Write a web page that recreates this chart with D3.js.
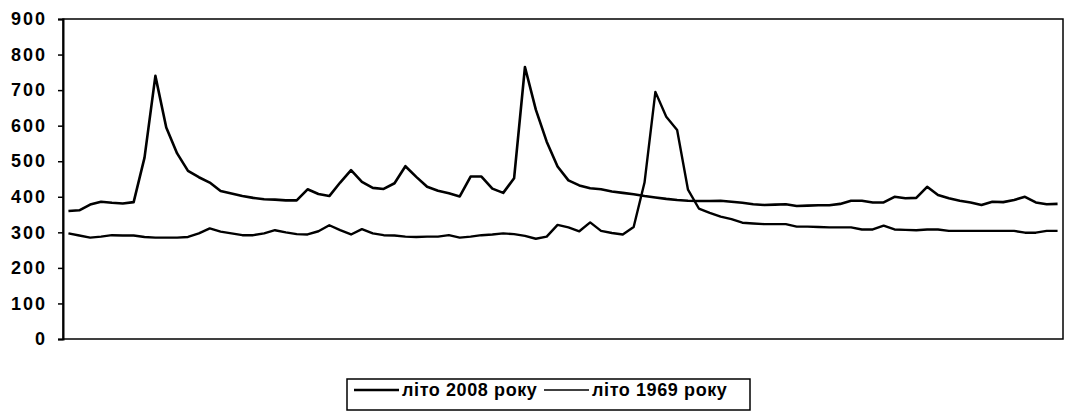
<!DOCTYPE html>
<html>
<head>
<meta charset="utf-8">
<script src="https://d3js.org/d3.v7.min.js"></script>
<style>
  body { margin: 0; background: #fff; }
  text { font-family: "Liberation Sans", Arial, sans-serif; font-weight: bold; fill: #000; }
</style>
</head>
<body>
<script>
// daily values, summer (92 days)
var summer2008 = [360, 362, 378, 386, 383, 381, 385, 510, 740, 595, 522, 473, 455, 440, 416, 409, 402, 397, 393, 392,
  390, 390, 421, 408, 402, 440, 475, 442, 425, 422, 438, 486, 456, 428, 417, 410, 401, 457, 457, 423,
  411, 452, 765, 645, 555, 485, 446, 432, 424, 421, 415, 411, 407, 402, 398, 394, 391, 389, 388, 388,
  389, 386, 383, 379, 377, 378, 379, 374, 375, 376, 376, 380, 389, 389, 384, 384, 400, 396, 397, 428,
  405, 396, 389, 384, 377, 386, 385, 391, 400, 384, 379, 380];
var summer1969 = [297, 291, 285, 288, 292, 291, 291, 287, 285, 285, 285, 287, 297, 311, 302, 297, 292, 292, 297, 306,
  300, 295, 294, 303, 320, 306, 294, 309, 297, 292, 291, 288, 287, 288, 288, 292, 285, 288, 292, 294,
  297, 295, 290, 282, 288, 321, 314, 303, 328, 304, 298, 294, 315, 440, 695, 625, 588, 420, 367, 355,
  344, 337, 327, 325, 323, 323, 323, 316, 316, 315, 314, 314, 314, 308, 308, 319, 308, 307, 306, 308,
  308, 304, 304, 304, 304, 304, 304, 304, 299, 299, 304, 304];
var yTicks = [0, 100, 200, 300, 400, 500, 600, 700, 800, 900];
var seriesNames = ["літо 2008 року", "літо 1969 року"];

var w = 1071, h = 420;
var pLeft = 63, pRight = 1063, pTop = 19, pBottom = 339;

var svg = d3.select("body").append("svg")
  .attr("width", w)
  .attr("height", h);

var x = d3.scaleBand()
  .domain(d3.range(summer2008.length))
  .range([pLeft, pRight]);

var y = d3.scaleLinear()
  .domain([0, 900])
  .range([pBottom, pTop]);

// plot frame
svg.append("rect")
  .attr("x", pLeft).attr("y", pTop)
  .attr("width", pRight - pLeft).attr("height", pBottom - pTop)
  .attr("fill", "none").attr("stroke", "#000").attr("stroke-width", 1.5);

var yAxis = svg.append("g")
  .attr("transform", "translate(" + pLeft + ",0)")
  .call(d3.axisLeft(y).tickValues(yTicks).tickSize(5).tickPadding(11).tickFormat(d3.format("d")));
yAxis.select(".domain").attr("stroke-width", 2);
yAxis.selectAll(".tick line").attr("stroke-width", 1.5);
yAxis.selectAll("text")
  .style("font-size", "18px")
  .style("font-family", "'Liberation Sans', Arial, sans-serif")
  .style("font-weight", "bold")
  .style("letter-spacing", "2px")
  .attr("fill", "#000");

var line = d3.line()
  .x(function(d, i) { return x(i) + x.bandwidth() / 2; })
  .y(function(d) { return y(d); });

svg.append("path").datum(summer2008)
  .attr("d", line).attr("fill", "none").attr("stroke", "#000").attr("stroke-width", 2.6)
  .attr("stroke-linejoin", "round");
svg.append("path").datum(summer1969)
  .attr("d", line).attr("fill", "none").attr("stroke", "#000").attr("stroke-width", 2.4)
  .attr("stroke-linejoin", "round");

// legend
var lg = svg.append("g").attr("transform", "translate(347,379)");
lg.append("rect").attr("width", 403).attr("height", 31)
  .attr("fill", "#fff").attr("stroke", "#000").attr("stroke-width", 1.5);
var items = [{ x: 7, sw: 2.5 }, { x: 197, sw: 1.5 }];
seriesNames.forEach(function(name, i) {
  lg.append("line").attr("x1", items[i].x).attr("x2", items[i].x + 45)
    .attr("y1", 11).attr("y2", 11).attr("stroke", "#000").attr("stroke-width", items[i].sw);
  lg.append("text").attr("x", items[i].x + 48).attr("y", 17)
    .style("font-size", "18px").style("letter-spacing", "0.6px").text(name);
});
</script>
</body>
</html>
